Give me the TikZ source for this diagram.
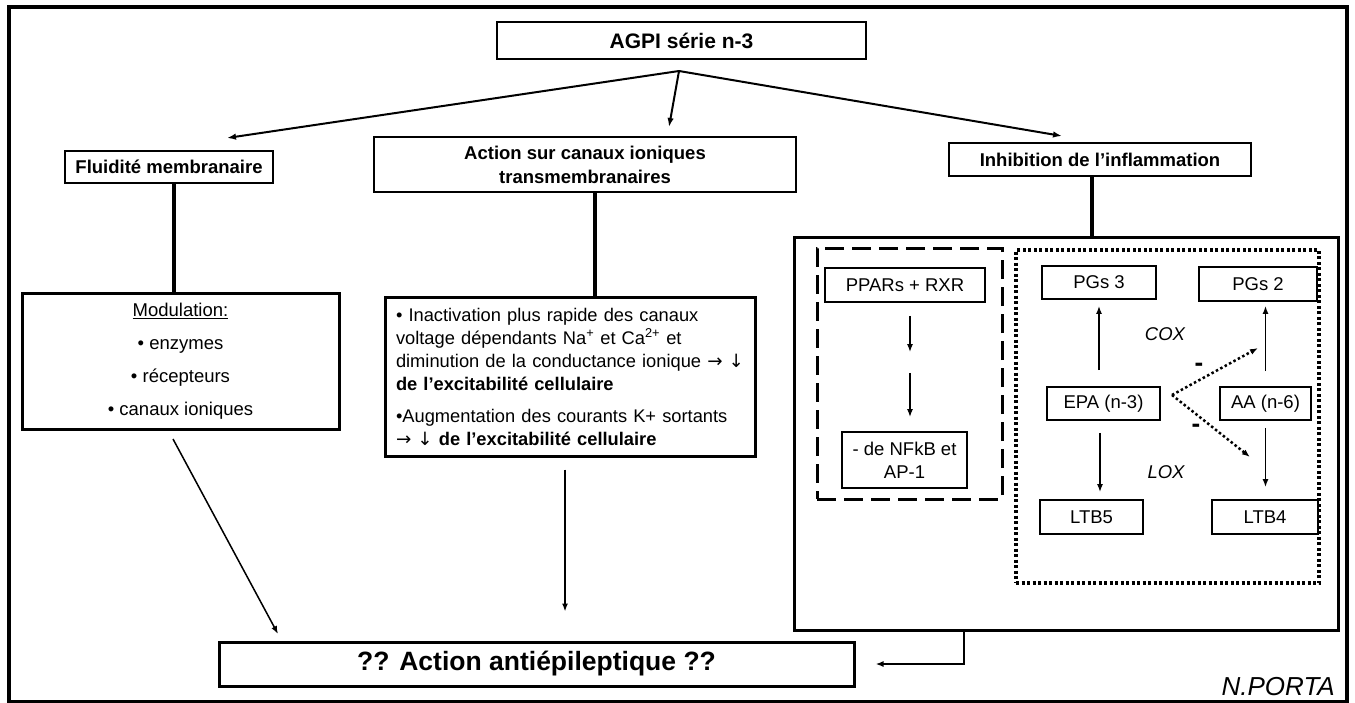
\documentclass[tikz,border=0pt]{standalone}
\usepackage{fontspec}
\setmainfont{Liberation Sans}
\newfontfamily\arrowfont{DejaVu Sans}
\usetikzlibrary{arrows.meta}

\begin{document}
\begin{tikzpicture}[x=1pt,y=-1pt,
  every node/.style={font=\fontsize{18.5}{23}\selectfont, inner sep=0pt},
  box/.style={draw, line width=1.2pt, align=center},
  boldbox/.style={box, font=\fontsize{18.5}{24}\selectfont\bfseries},
  heavybox/.style={draw, line width=3pt, align=center},
  smallbox/.style={draw, line width=1.8pt, align=center},
  thickline/.style={line width=4pt},
  arr/.style={line width=1.5pt, -{Latex[length=8pt,width=6pt]}},
  forkarr/.style={line width=2pt, -{Latex[length=9pt,width=6.5pt]}},
  dotarr/.style={line width=2.5pt, dash pattern=on 2.5pt off 2.5pt, -{Latex[length=8pt,width=6pt]}}]
\useasboundingbox (0,0) rectangle (1355,702);
\draw[line width=4.5pt] (9,7) rectangle (1347,702.5); % frame
\node[boldbox, line width=2pt, minimum width=369pt, minimum height=37pt, font=\fontsize{21}{24}\selectfont\bfseries] (agpi) at (681.5,40.5) {AGPI série n-3}; % agpi
\node[boldbox, minimum width=208pt, minimum height=32pt] (fluid) at (169,167) {Fluidité membranaire}; % fluid
\node[boldbox, minimum width=422pt, minimum height=55pt] (action) at (585,164.5) {Action sur canaux ioniques\\transmembranaires}; % action
\node[boldbox, minimum width=302pt, minimum height=33pt] (inhib) at (1100,159.5) {Inhibition de l’inflammation}; % inhib
\node[heavybox, minimum width=317pt, minimum height=136pt, font=\fontsize{18.5}{33}\selectfont] (modul) at (180.5,361) {\underline{Modulation:}\\• enzymes\\• récepteurs\\• canaux ioniques}; % modul
\node[heavybox, align=left, text width=358pt, inner xsep=6pt, minimum height=159pt, font=\fontsize{18.3}{23}\selectfont] (bullets) at (570,376.5) {\hspace*{5pt}\mbox{• Inactivation plus rapide des canaux}\\ \hspace*{5pt}\mbox{voltage dépendants Na\textsuperscript{+} et Ca\textsuperscript{2+} et}\\ \hspace*{5pt}\mbox{diminution de la conductance ionique {\arrowfont →} {\arrowfont ↓}}\\ \hspace*{5pt}\mbox{\textbf{de l’excitabilité cellulaire}}\\[9pt] \hspace*{5pt}\mbox{•Augmentation des courants K+ sortants}\\ \hspace*{5pt}\mbox{{\arrowfont →} {\arrowfont ↓} \textbf{de l’excitabilité cellulaire}}}; % bullets
\node[heavybox, minimum width=544pt, minimum height=393pt] (inflbox) at (1066,433.5) {}; % inflbox
\node[draw, line width=3pt, dash pattern=on 19pt off 8pt, minimum width=185pt, minimum height=251pt] (nucbox) at (909.5,373.5) {}; % nucbox
\node[draw, line width=3.5pt, dash pattern=on 3pt off 2.5pt, minimum width=303pt, minimum height=333pt] (enzbox) at (1167.5,416.5) {}; % enzbox
\node[smallbox, minimum width=160pt, minimum height=34pt] (ppars) at (905,285) {PPARs + RXR}; % ppars
\node[smallbox, minimum width=125pt, minimum height=56pt] (nfkb) at (904.5,460) {- de NFkB et\\AP-1}; % nfkb
\node[smallbox, minimum width=114pt, minimum height=33pt] (pgs3) at (1099,282.5) {PGs 3}; % pgs3
\node[smallbox, minimum width=118pt, minimum height=34pt] (pgs2) at (1258,284) {PGs 2}; % pgs2
\node[smallbox, minimum width=113pt, minimum height=33pt] (epa) at (1103.5,403.5) {EPA (n-3)}; % epa
\node[smallbox, minimum width=91pt, minimum height=33pt] (aa) at (1265.5,403.5) {AA (n-6)}; % aa
\node[smallbox, minimum width=103pt, minimum height=34pt] (ltb5) at (1091.5,517) {LTB5}; % ltb5
\node[smallbox, minimum width=106pt, minimum height=34pt] (ltb4) at (1265,517) {LTB4}; % ltb4
\node[font=\fontsize{18.5}{23}\selectfont\itshape] (cox) at (1165,334) {COX}; % cox
\node[font=\fontsize{18.5}{23}\selectfont\itshape] (lox) at (1166,472) {LOX}; % lox
\node[font=\fontsize{26}{26}\selectfont\bfseries] (minus1) at (1199,367) {-}; % minus1
\node[font=\fontsize{26}{26}\selectfont\bfseries] (minus2) at (1196,428) {-}; % minus2
\node[heavybox, minimum width=635pt, minimum height=44pt, font=\fontsize{26.5}{30}\selectfont\bfseries] (anti) at (536.5,664) {?? Action antiépileptique ??}; % anti
\node[font=\fontsize{26}{30}\selectfont\itshape, anchor=base east] (author) at (1335,695) {N.PORTA}; % author
\coordinate (fork) at (679,71); % fork
\coordinate (fluidin) at (227,138); % fluidin
\coordinate (actionin) at (669,127); % actionin
\coordinate (inhibin) at (1062,136); % inhibin
\coordinate (modout) at (173,439); % modout
\coordinate (antiin) at (278,634); % antiin
\coordinate (epaout) at (1172,395); % epaout
\coordinate (coxin) at (1258,348); % coxin
\coordinate (loxin) at (1250,457); % loxin
\draw[forkarr] (fork) -- (fluidin); % fork to fluid
\draw[forkarr] (fork) -- (actionin); % fork to action
\draw[forkarr] (fork) -- (inhibin); % fork to inhib
\draw[thickline] ([xshift=5pt]fluid.south) -- ([xshift=5pt]fluid.south |- modul.north); % fluid-modul
\draw[thickline] ([xshift=10pt]action.south) -- ([xshift=10pt]action.south |- bullets.north); % action-bullets
\draw[thickline] ([xshift=-8pt]inhib.south) -- ([xshift=-8pt]inhib.south |- inflbox.north); % inhib-inflbox
\draw[arr] (modout) -- (antiin); % modul to anti
\draw[arr, shorten <=12pt, shorten >=29pt] ([xshift=-5pt]bullets.south) -- ([xshift=-5pt]bullets.south |- anti.north); % bullets to anti
\draw[arr, line width=2pt] ([xshift=-102pt]inflbox.south) |- ([xshift=20pt]anti.east); % inflbox to anti
\draw[arr, shorten <=13pt, shorten >=79pt] ([xshift=5pt]ppars.south) -- ([xshift=5pt]ppars.south |- nfkb.north); % ppars step 1
\draw[arr, shorten <=70pt, shorten >=14pt] ([xshift=5pt]ppars.south) -- ([xshift=5pt]ppars.south |- nfkb.north); % ppars step 2
\draw[arr, shorten <=16pt, shorten >=6pt] (pgs3.south |- epa.north) -- (pgs3.south); % epa to pgs3
\draw[arr, shorten <=12pt, shorten >=7pt] ([xshift=-3.5pt]epa.south) -- ([xshift=-3.5pt]epa.south |- ltb5.north); % epa to ltb5
\draw[arr, shorten <=15pt, shorten >=4pt] (aa.north) -- (aa.north |- pgs2.south); % aa to pgs2
\draw[arr, shorten <=7pt, shorten >=12pt] (aa.south) -- (aa.south |- ltb4.north); % aa to ltb4
\draw[dotarr] (epaout) -- (coxin); % cox block
\draw[dotarr] (epaout) -- (loxin); % lox block
\end{tikzpicture}
\end{document}
